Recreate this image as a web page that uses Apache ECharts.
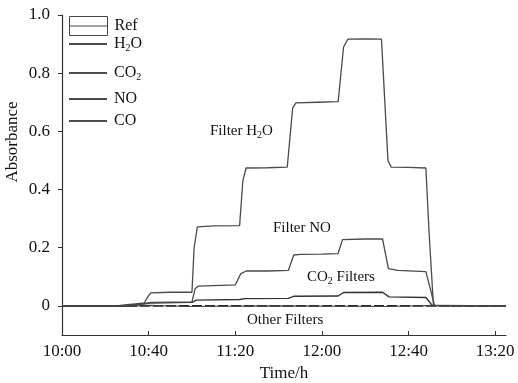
<!DOCTYPE html>
<html>
<head>
<meta charset="utf-8">
<script src="https://cdn.jsdelivr.net/npm/echarts@6/dist/echarts.min.js"></script>
<style>
  html, body { margin: 0; padding: 0; background: #fff; }
  #chart { width: 518px; height: 383px; }
</style>
</head>
<body>
<div id="chart"></div>
<script>
// minutes after 10:00
const xTicks = [0, 40, 80, 120, 160, 200];
const yTicks = [0, 0.2, 0.4, 0.6, 0.8, 1.0];

const h2oTime = [0, 25, 30, 35, 38, 39.5, 41, 50, 60, 61, 62.5, 70, 82, 83.5, 85, 95, 104, 106.5, 108, 118, 127.5, 130, 132, 140, 147.5, 150.5, 152, 160, 168, 169.5, 171.5, 180, 205];
const h2oVals = [0, 0, 0.004, 0.008, 0.01, 0.03, 0.045, 0.047, 0.047, 0.2, 0.272, 0.275, 0.276, 0.43, 0.474, 0.475, 0.477, 0.68, 0.698, 0.7, 0.702, 0.89, 0.917, 0.918, 0.917, 0.5, 0.477, 0.476, 0.474, 0.25, 0.002, 0, 0];

const noTime = [0, 28, 35, 39, 41, 60, 61.5, 63, 70, 80, 82.5, 85, 95, 104.5, 107, 110, 120, 127.5, 129.5, 140, 148, 150.7, 155, 168, 170, 172, 205];
const noVals = [0, 0, 0.005, 0.008, 0.012, 0.014, 0.06, 0.068, 0.07, 0.072, 0.11, 0.12, 0.12, 0.122, 0.175, 0.177, 0.178, 0.18, 0.228, 0.23, 0.23, 0.128, 0.122, 0.118, 0.06, 0.002, 0];

const co2Time = [0, 28, 35, 40, 60, 62, 82, 84.5, 104.5, 107, 127.5, 130, 148, 151, 168, 171, 205];
const co2Vals = [0, 0, 0.004, 0.01, 0.012, 0.02, 0.022, 0.025, 0.026, 0.033, 0.034, 0.046, 0.047, 0.031, 0.029, 0.001, 0];

const coTime = [0, 30, 40, 60, 100, 150, 172, 205];
const coVals = [0, -0.002, 0.002, -0.002, 0, -0.002, 0.002, 0];

const refTime = [0, 205];
const refVals = [0, 0];

const FONT = "Liberation Serif";
const INK = "#111";
const LINE = "#4a4a4a";

const zip = (t, v) => t.map((x, i) => [x, v[i]]);
const fmtTime = (m) => {
  const h = 10 + Math.floor(m / 60);
  const mm = m % 60;
  return h + ":" + (mm < 10 ? "0" + mm : mm);
};

const sub = { s: { fontFamily: FONT, fontSize: 10, verticalAlign: "bottom", lineHeight: 10, color: INK } };

const chart = echarts.init(document.getElementById("chart"));

function legendAt(name, top, opts) {
  return Object.assign({
    data: [name],
    left: 69,
    top: top,
    itemWidth: 38,
    itemHeight: 2,
    itemGap: 0,
    icon: "rect",
    selectedMode: false,
    padding: 0,
    textStyle: { fontFamily: FONT, fontSize: 16, color: INK, lineHeight: 18, padding: [0, 0, 0, 2], rich: sub },
    formatter: (n) => ({ "H2O": "H{s|2}O", "CO2": "CO{s|2}" }[n] || n),
  }, opts || {});
}

const line = (name, data, extra) => Object.assign({
  name: name,
  type: "line",
  data: data,
  showSymbol: false,
  symbol: "none",
  lineStyle: { color: LINE, width: 1.3 },
  itemStyle: { color: LINE },
}, extra || {});

chart.setOption({
  animation: false,
  backgroundColor: "#fff",
  grid: { left: 62, right: 12, top: 15, bottom: 48, outerBoundsMode: "none" },
  legend: [
    legendAt("Ref", 16, {
      itemHeight: 19,
      icon: "path://M0,0H38V19H0Z M0,9.5H38",
      itemStyle: { color: "transparent", borderColor: "#444", borderWidth: 1 },
    }),
    legendAt("H2O", 35),
    legendAt("CO2", 64),
    legendAt("NO", 90),
    legendAt("CO", 112),
  ],
  xAxis: {
    type: "value",
    min: 0,
    max: 205,
    name: "Time/h",
    nameLocation: "middle",
    nameGap: 27,
    nameTextStyle: { fontFamily: FONT, fontSize: 17, color: INK },
    axisLine: { onZero: false, lineStyle: { color: "#333", width: 1.2 } },
    axisTick: { inside: true, length: 4, customValues: xTicks, lineStyle: { color: "#333" } },
    axisLabel: { customValues: xTicks, formatter: fmtTime, margin: 8, fontFamily: FONT, fontSize: 17, color: INK },
    splitLine: { show: false },
  },
  yAxis: {
    type: "value",
    min: -0.1,
    max: 1.0,
    axisLine: { show: true, lineStyle: { color: "#333", width: 1.2 } },
    axisTick: { show: true, inside: false, length: 4, customValues: yTicks, lineStyle: { color: "#333" } },
    axisLabel: {
      customValues: yTicks,
      formatter: (v) => (v === 0 ? "0" : v.toFixed(1)),
      margin: 12,
      fontFamily: FONT,
      fontSize: 17,
      color: INK,
    },
    splitLine: { show: false },
  },
  graphic: [
    { type: "text", x: 13, y: 142, rotation: Math.PI / 2, style: { text: "Absorbance", fontFamily: FONT, fontSize: 17, fill: INK, align: "center", verticalAlign: "middle" } },
    { type: "text", x: 210, y: 131, style: { text: "Filter H{s|2}O", fontFamily: FONT, fontSize: 15, fill: INK, verticalAlign: "middle", lineHeight: 18, rich: sub } },
    { type: "text", x: 273, y: 228, style: { text: "Filter NO", fontFamily: FONT, fontSize: 15, fill: INK, verticalAlign: "middle" } },
    { type: "text", x: 307, y: 277, style: { text: "CO{s|2} Filters", fontFamily: FONT, fontSize: 15, fill: INK, verticalAlign: "middle", lineHeight: 18, rich: sub } },
    { type: "text", x: 247, y: 320, style: { text: "Other Filters", fontFamily: FONT, fontSize: 15, fill: INK, verticalAlign: "middle" } },
  ],
  series: [
    line("Ref", zip(refTime, refVals), { lineStyle: { color: "#222", width: 1.8, type: [10, 3] } }),
    line("H2O", zip(h2oTime, h2oVals)),
    line("CO2", zip(co2Time, co2Vals), { lineStyle: { color: "#333", width: 1.4 } }),
    line("NO", zip(noTime, noVals)),
    line("CO", zip(coTime, coVals), { lineStyle: { color: "#444", width: 1.2 } }),
  ],
});
</script>
</body>
</html>
